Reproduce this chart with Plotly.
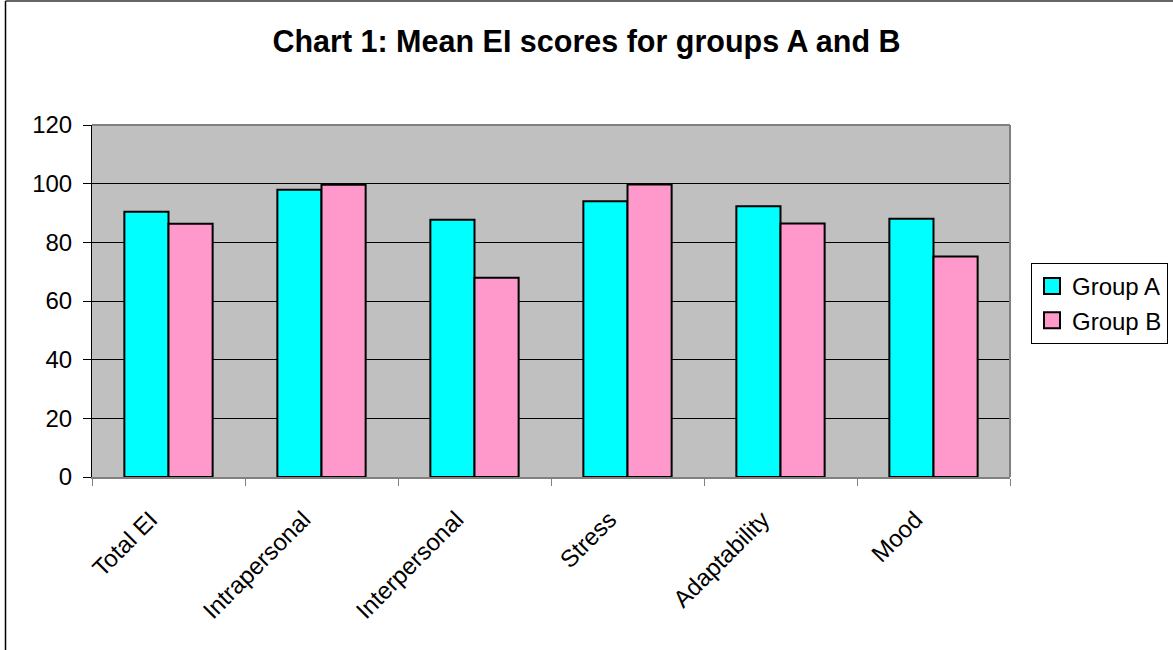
import plotly.graph_objects as go

# Mean EI scores per scale
categories = ["Total EI", "Intrapersonal", "Interpersonal", "Stress", "Adaptability", "Mood"]
group_a = [90.4, 97.9, 87.7, 94.0, 92.3, 88.0]
group_b = [86.3, 99.6, 67.9, 99.7, 86.4, 75.2]
series_names = ["Group A", "Group B"]
y_ticks = [0, 20, 40, 60, 80, 100, 120]

COLORS = ["#00FFFF", "#FF99CC"]
FONT = "Liberation Sans, Arial, sans-serif"

W, H = 1173, 650
L, R, T, B = 92, 163, 125, 173
PW, PH = W - L - R, H - T - B

fig = go.Figure()
for name, vals, col in zip(series_names, [group_a, group_b], COLORS):
    fig.add_trace(go.Bar(
        x=categories, y=vals, name=name, showlegend=False,
        marker=dict(color=col, line=dict(color="black", width=2)),
    ))

# legend entries with larger square swatches
for name, col in zip(series_names, COLORS):
    fig.add_trace(go.Scatter(
        x=[None], y=[None], mode="markers", name=name,
        marker=dict(symbol="square", size=16, color=col,
                    line=dict(color="black", width=2)),
    ))

def px_x(p):
    return (p - L) / PW

def px_y(p):
    return (H - B - p) / PH

fig.update_layout(
    width=W, height=H,
    margin=dict(l=L, r=R, t=T, b=B, autoexpand=False),
    paper_bgcolor="white",
    plot_bgcolor="#C0C0C0",
    barmode="group",
    bargap=0.423,
    bargroupgap=0,
    font=dict(family=FONT, size=24, color="black"),
    title=dict(
        text="<b>Chart 1: Mean EI scores for groups A and B</b>",
        x=0.5, xref="container", xanchor="center",
        y=1 - 41 / H, yref="container", yanchor="middle",
        font=dict(family=FONT, size=30.5, color="black"),
    ),
    xaxis=dict(
        type="category", categoryorder="array", categoryarray=categories,
        tickangle=-45, tickson="boundaries",
        ticks="outside", ticklen=7, tickcolor="#808080", tickwidth=1,
        ticklabelstandoff=17, ticklabelshift=-18,
        showline=True, linecolor="#808080", linewidth=2,
        showgrid=False, zeroline=False,
        tickfont=dict(family=FONT, size=24),
    ),
    yaxis=dict(
        range=[0, 120], tickvals=y_ticks,
        ticks="outside", ticklen=8, tickcolor="black", tickwidth=1,
        ticklabelstandoff=6,
        showline=True, linecolor="black", linewidth=1,
        showgrid=True, gridcolor="black", gridwidth=1,
        zeroline=False,
        tickfont=dict(family=FONT, size=24),
    ),
    legend=dict(
        x=px_x(1031), y=px_y(263), xanchor="left", yanchor="top",
        bordercolor="black", borderwidth=1, bgcolor="white",
        font=dict(family=FONT, size=24),
        itemwidth=30,
    ),
    shapes=[
        # plot area frame (top and right)
        dict(type="line", xref="paper", yref="paper", x0=0, x1=1, y0=1, y1=1,
             line=dict(color="#808080", width=2)),
        dict(type="line", xref="paper", yref="paper", x0=1, x1=1, y0=0, y1=1,
             line=dict(color="#808080", width=2)),
        # outer chart border
        dict(type="line", xref="paper", yref="paper",
             x0=px_x(5.5), x1=px_x(5.5), y0=px_y(H + 10), y1=px_y(1),
             line=dict(color="black", width=1.5)),
        dict(type="line", xref="paper", yref="paper",
             x0=px_x(5.5), x1=px_x(W + 10), y0=px_y(1), y1=px_y(1),
             line=dict(color="#333333", width=1.5)),
    ],
)

fig.write_html("out.html")
